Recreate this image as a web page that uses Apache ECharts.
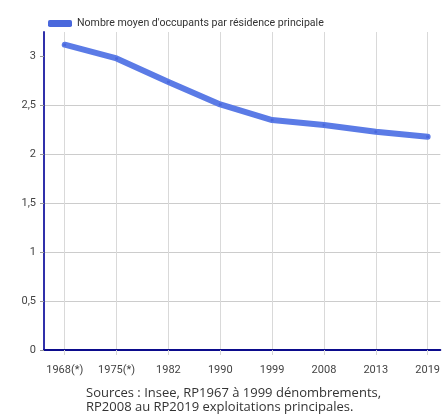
<!DOCTYPE html>
<html>
<head>
<meta charset="utf-8">
<script src="https://cdn.jsdelivr.net/npm/echarts@6/dist/echarts.min.js"></script>
<style>
  html, body { margin: 0; padding: 0; background: #fff; }
  #chart { width: 443px; height: 419px; }
</style>
</head>
<body>
<div id="chart"></div>
<script>
// Census years and average household size
const categories = ['1968(*)', '1975(*)', '1982', '1990', '1999', '2008', '2013', '2019'];
const occupants = [3.12, 2.98, 2.74, 2.51, 2.35, 2.30, 2.23, 2.18];
const yTicks = [0, 0.5, 1, 1.5, 2, 2.5, 3];
const seriesName = "Nombre moyen d'occupants par résidence principale";
const sourceLines = ['Sources : Insee, RP1967 à 1999 dénombrements,', 'RP2008 au RP2019 exploitations principales.'];

const xIdx = categories.map((_, i) => i);
const narrow = "Roboto, sans-serif";
const body = "'Open Sans', sans-serif";

const chart = echarts.init(document.getElementById('chart'), null, { renderer: 'canvas' });
chart.setOption({
  animation: false,
  backgroundColor: '#ffffff',
  textStyle: { fontFamily: narrow },
  legend: {
    left: 43, top: 13,
    itemWidth: 24, itemHeight: 7, itemGap: 6,
    icon: 'roundRect',
    textStyle: { fontSize: 10.6, color: '#333', fontFamily: narrow },
    data: [seriesName]
  },
  grid: { left: 44, right: 0, top: 32, bottom: 69, containLabel: false },
  xAxis: {
    type: 'value',
    min: -0.4, max: 7.245,
    axisLine: { show: true, onZero: false, lineStyle: { color: '#0b0b8c', width: 2 } },
    axisTick: { show: true, length: 5, customValues: xIdx, lineStyle: { color: '#d6d6d6' } },
    axisLabel: {
      customValues: xIdx, margin: 15, fontSize: 11, color: '#444', fontFamily: narrow,
      formatter: v => categories[Math.round(v)]
    },
    splitLine: { show: true, lineStyle: { color: '#d9d9d9', width: 1 } }
  },
  yAxis: {
    type: 'value',
    min: 0, max: 3.25,
    axisLine: { show: true, onZero: false, lineStyle: { color: '#3030aa', width: 2 } },
    axisTick: { show: true, length: 4, customValues: yTicks, lineStyle: { color: '#999' } },
    axisLabel: {
      customValues: yTicks, margin: 8, fontSize: 11, color: '#444', fontFamily: narrow,
      formatter: v => String(v).replace('.', ',')
    },
    splitLine: { show: true, showMaxLine: false, lineStyle: { color: '#cccccc', width: 1 } }
  },
  series: [{
    name: seriesName,
    type: 'line',
    data: occupants.map((v, i) => [i, v]),
    color: '#5b7be6',
    lineStyle: { width: 6, color: '#5b7be6', cap: 'round', join: 'round' },
    symbol: 'circle', symbolSize: 3,
    itemStyle: { color: '#4a68dc' },
    z: 3
  }],
  graphic: [{
    type: 'text', left: 86, top: 386,
    style: {
      text: sourceLines.join('\n'), fontSize: 13, lineHeight: 14,
      fill: '#333', fontFamily: body
    }
  }]
});
</script>
</body>
</html>
